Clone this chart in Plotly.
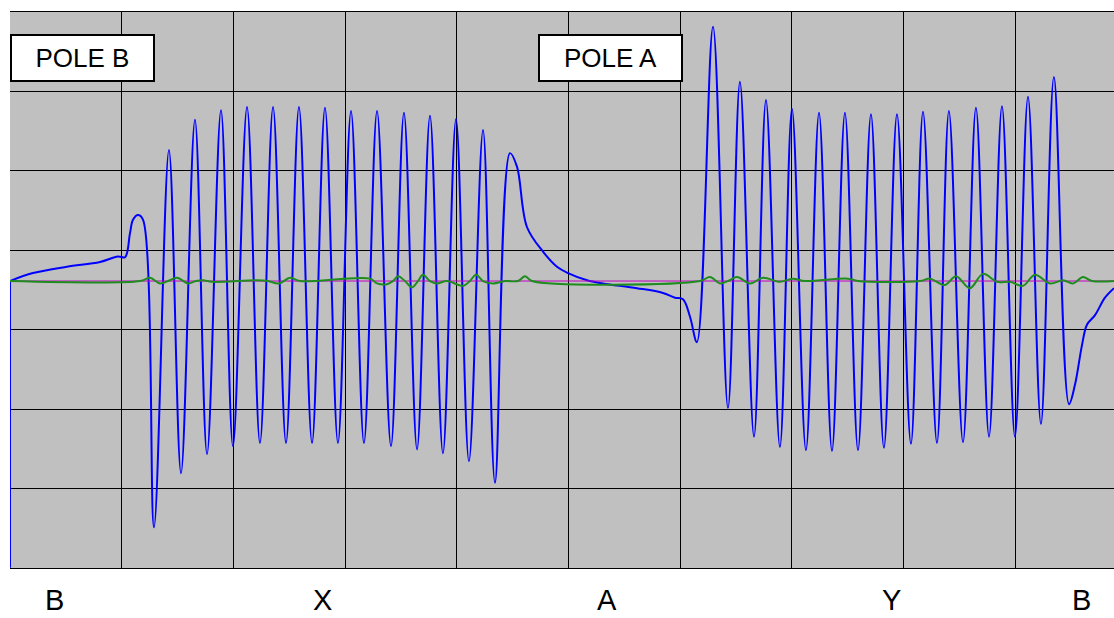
import plotly.graph_objects as go

# ---- data (x in time units, 10 per grid division; y in grid divisions, 0 = trace baseline) ----
edge_x = [0, 0]
edge_y = [-3.61, 0.00]

blue_x = [0, 2.06, 5.10, 8.06, 9.67, 10.30, 10.74, 11.01, 11.46, 11.91,
          12.89, 14.23, 15.31, 16.56, 17.64, 18.89, 19.96, 21.22, 22.38, 23.55,
          24.71, 25.87, 27.04, 28.20, 29.36, 30.53, 31.69, 32.86, 34.11, 35.27,
          36.44, 37.60, 38.76, 39.93, 41.09, 42.35, 43.42, 44.76, 45.39, 46.28,
          47.72, 48.97, 49.96, 51.66, 53.09, 56.13, 58.46, 59.53, 60.25, 60.88,
          61.50, 62.94, 64.28, 65.35, 66.61, 67.68, 68.93, 70.01, 71.26, 72.43,
          73.59, 74.75, 75.92, 77.08, 78.24, 79.41, 80.66, 81.74, 82.99, 84.06,
          85.32, 86.48, 87.65, 88.81, 89.97, 91.14, 92.30, 93.46, 94.81, 95.34,
          95.97, 96.42, 97.14, 98.03, 98.84]
blue_y = [0.00, 0.10, 0.18, 0.24, 0.31, 0.30, 0.60, 0.77, 0.83, 0.77,
          -3.10, 1.65, -2.42, 2.03, -2.18, 2.15, -2.08, 2.19, -2.04, 2.19,
          -2.04, 2.19, -2.04, 2.18, -2.04, 2.14, -2.04, 2.14, -2.08, 2.12,
          -2.12, 2.08, -2.17, 2.04, -2.27, 1.90, -2.54, 1.61, 1.44, 0.68,
          0.37, 0.18, 0.10, 0.01, -0.03, -0.09, -0.15, -0.21, -0.23, -0.45,
          -0.77, 3.20, -1.60, 2.51, -1.96, 2.28, -2.09, 2.17, -2.13, 2.12,
          -2.14, 2.12, -2.13, 2.10, -2.10, 2.10, -2.05, 2.13, -2.04, 2.14,
          -2.03, 2.18, -1.96, 2.20, -1.96, 2.32, -1.80, 2.57, -1.55, -1.31,
          -0.81, -0.55, -0.43, -0.21, -0.09]

green_x = [0, 11.64, 12.53, 13.43, 14.15, 14.95, 15.94, 16.65, 17.28, 18.08,
           22.11, 23.10, 24.08, 25.07, 25.96, 32.23, 32.86, 33.75, 34.29, 34.74,
           35.36, 35.99, 36.53, 36.97, 37.60, 38.23, 39.12, 40.56, 41.18, 41.72,
           42.35, 43.24, 44.32, 45.48, 46.11, 46.73, 61.77, 62.67, 63.56, 64.28,
           65.09, 66.25, 67.41, 68.93, 70.10, 71.17, 75.02, 75.92, 81.47, 82.36,
           83.71, 84.69, 85.94, 87.11, 88.36, 89.53, 90.69, 91.76, 93.11, 94.27,
           95.17, 96.06, 96.87, 98.84]
green_y = [0, 0, 0.04, -0.03, 0, 0.04, -0.03, 0, 0.01, -0.01,
           0.01, 0, -0.03, 0.04, 0, 0.03, -0.03, -0.04, 0, 0.06,
           0, -0.08, 0, 0.08, 0, -0.03, 0, -0.06, 0, 0.08,
           0, -0.03, 0, 0, 0.06, 0, 0, 0.05, -0.03, 0,
           0.05, -0.03, 0.04, -0.01, 0.03, 0, 0.03, 0, 0, 0.03,
           -0.05, 0.06, -0.09, 0.09, -0.01, -0.01, -0.06, 0.08, -0.03, 0.01,
           -0.03, 0.05, 0, 0]

ref_x = [0, 98.84]
ref_y = [0, 0]

pole_labels = ["POLE B", "POLE A"]
pole_label_x = [0, 47.27]

bottom_labels = ["B", "X", "A", "Y", "B"]
bottom_label_x = [3.94, 28.02, 53.45, 78.96, 95.97]

x_range = [0, 98.84]
y_range = [-3.613, 3.387]
grid_x = [10, 20, 30, 40, 50, 60, 70, 80, 90]
grid_y = [2.387, 1.387, 0.387, -0.613, -1.613, -2.613]

FONT = "Arial, Liberation Sans, sans-serif"

fig = go.Figure()
fig.add_trace(go.Scatter(x=edge_x, y=edge_y, mode="lines",
                         line=dict(color="#0000ff", width=2), hoverinfo="skip"))
fig.add_trace(go.Scatter(x=blue_x, y=blue_y, mode="lines",
                         line=dict(color="#0000ff", width=2, shape="spline", smoothing=1.0),
                         hoverinfo="skip"))
fig.add_trace(go.Scatter(x=ref_x, y=ref_y, mode="lines",
                         line=dict(color="#c000c0", width=1), hoverinfo="skip"))
fig.add_trace(go.Scatter(x=green_x, y=green_y, mode="lines",
                         line=dict(color="#1e8c1e", width=2, shape="spline", smoothing=1.0),
                         hoverinfo="skip"))

annotations = []
for txt, xv in zip(pole_labels, pole_label_x):
    annotations.append(dict(
        text=txt, x=xv, y=3.11, xref="x", yref="y", xanchor="left", yanchor="top",
        showarrow=False, width=141, height=44, align="center", valign="middle",
        bgcolor="white", bordercolor="black", borderwidth=2, borderpad=0,
        font=dict(family=FONT, size=26, color="black")))
for txt, xv in zip(bottom_labels, bottom_label_x):
    annotations.append(dict(
        text=txt, x=xv, y=-0.058, xref="x", yref="paper", xanchor="center", yanchor="middle",
        showarrow=False, borderpad=0, font=dict(family=FONT, size=29, color="black")))

fig.update_layout(
    width=1114, height=618,
    margin=dict(l=10, r=0, t=12, b=50),
    paper_bgcolor="white", plot_bgcolor="#c0c0c0",
    showlegend=False, hovermode=False,
    annotations=annotations,
    xaxis=dict(range=x_range, tickmode="array", tickvals=grid_x, showticklabels=False,
               ticks="", showgrid=True, gridcolor="black", gridwidth=1, zeroline=False,
               showline=True, linecolor="black", linewidth=1, mirror=True, fixedrange=True),
    yaxis=dict(range=y_range, tickmode="array", tickvals=grid_y, showticklabels=False,
               ticks="", showgrid=True, gridcolor="black", gridwidth=1, zeroline=False,
               showline=False, fixedrange=True),
)

fig.write_html("out.html", config={"displayModeBar": False})
